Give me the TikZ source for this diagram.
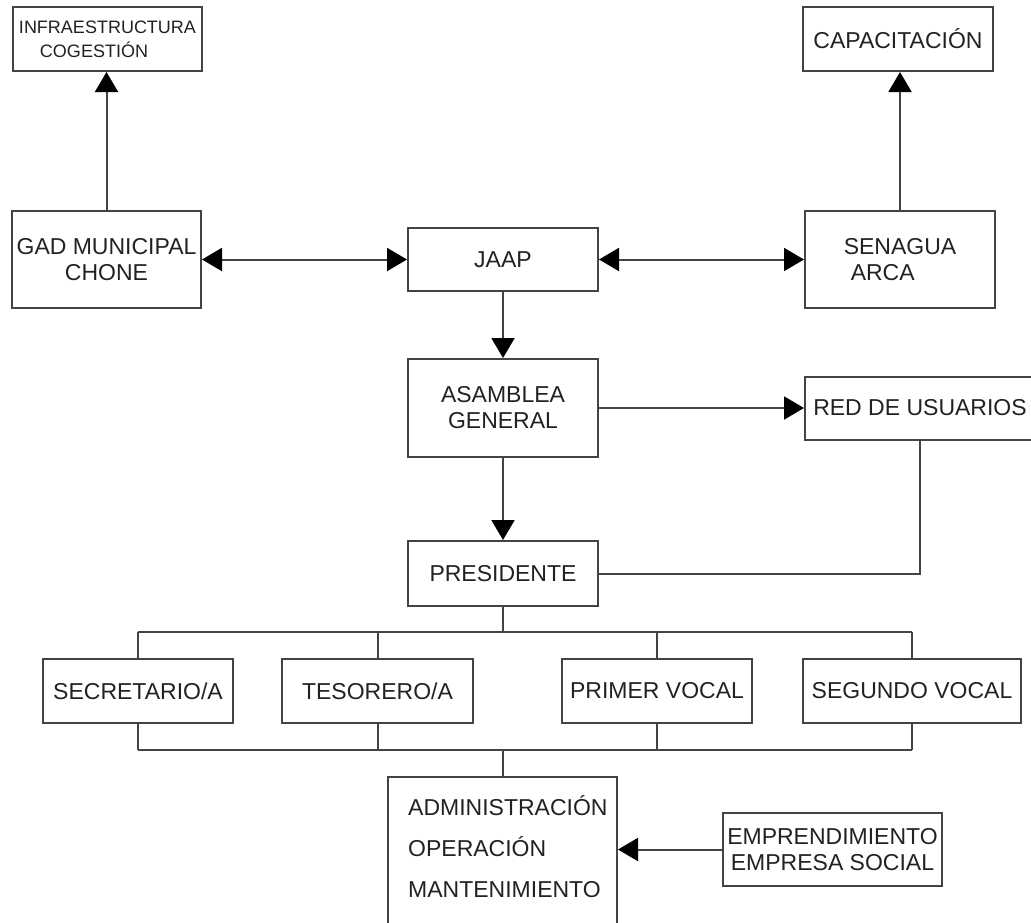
\documentclass[tikz,border=0pt]{standalone}
\usepackage{fontspec}
\setmainfont{Liberation Sans}
\usetikzlibrary{arrows.meta}
\definecolor{ln}{HTML}{444444}
\definecolor{tx}{HTML}{222222}
\begin{document}
\begin{tikzpicture}[x=1pt,y=-1pt,
  box/.style={draw=ln, line width=2pt, fill=white, inner sep=0pt, text=tx,
    font=\fontsize{23}{26}\selectfont, align=center},
  conn/.style={draw=ln, line width=2pt},
  tip/.tip={Triangle[length=20pt,width=23pt,color=black]},
  arr/.style={conn, -tip},
  darr/.style={conn, tip-tip}]
\useasboundingbox (0,0) rectangle (1031,922);
\fill[white] (0,0) rectangle (1031,922);
\clip (0,0) rectangle (1031,922);

\node[box, minimum width=189pt, minimum height=64pt, align=left, font=\fontsize{18}{24}\selectfont] (infra) at (107.5,39) {INFRAESTRUCTURA\\\hspace*{21pt}COGESTIÓN};
\node[box, minimum width=189pt, minimum height=97pt] (gad) at (106.5,259.5) {GAD MUNICIPAL\\CHONE};
\node[box, minimum width=190pt, minimum height=63pt] (jaap) at (503,259.5) {JAAP};
\node[box, minimum width=190pt, minimum height=97pt, align=left] (sen) at (900,259.5) {SENAGUA\\\hspace*{7pt}ARCA};
\node[box, minimum width=190pt, minimum height=64pt] (cap) at (898,39) {CAPACITACIÓN};
\node[box, minimum width=190pt, minimum height=98pt] (asam) at (503,408) {ASAMBLEA\\GENERAL};
\node[box, minimum width=230pt, minimum height=63pt] (red) at (920,408) {RED DE USUARIOS};
\node[box, minimum width=190pt, minimum height=65pt] (pres) at (503,573.5) {PRESIDENTE};
\node[box, minimum width=190pt, minimum height=64pt] (sec) at (138,691) {SECRETARIO/A};
\node[box, minimum width=191pt, minimum height=64pt] (tes) at (377.5,691) {TESORERO/A};
\node[box, minimum width=190pt, minimum height=64pt] (pri) at (657,691) {PRIMER VOCAL};
\node[box, minimum width=218pt, minimum height=64pt] (seg) at (912,691) {SEGUNDO VOCAL};
\node[box, minimum width=229pt, minimum height=183pt] (admin) at (502.5,868.5) {};
\node[text=tx, inner sep=0pt, anchor=base west, align=left, font=\fontsize{23}{41}\selectfont] (admintxt) at (408,897) {ADMINISTRACIÓN\\OPERACIÓN\\MANTENIMIENTO};
\node[box, minimum width=219pt, minimum height=73pt] (emp) at (832.5,849.5) {EMPRENDIMIENTO\\EMPRESA SOCIAL};

\coordinate (busT) at (503,632);
\coordinate (busB) at (503,750);

\draw[arr] (gad.north) -- (gad.north |- infra.south);
\draw[arr] (sen.north) -- (sen.north |- cap.south);
\draw[darr] (gad.east) -- (jaap.west);
\draw[darr] (jaap.east) -- (sen.west);
\draw[arr] (jaap.south) -- (asam.north);
\draw[arr] (asam.east) -- (red.west);
\draw[arr] (asam.south) -- (pres.north);
\draw[conn] (red.south) -- (red.south |- pres.east) -- (pres.east);
\draw[conn] (pres.south) -- (busT);
\draw[conn] (sec.north |- busT) -- (seg.north |- busT);
\foreach \n in {sec,tes,pri,seg} {
  \draw[conn] (\n.north) -- (\n.north |- busT);
  \draw[conn] (\n.south) -- (\n.south |- busB);
}
\draw[conn] (sec.south |- busB) -- (seg.south |- busB);
\draw[conn] (busB) -- (busB |- admin.north);
\draw[arr] (emp.west) -- (admin.east |- emp.west);
\end{tikzpicture}
\end{document}
